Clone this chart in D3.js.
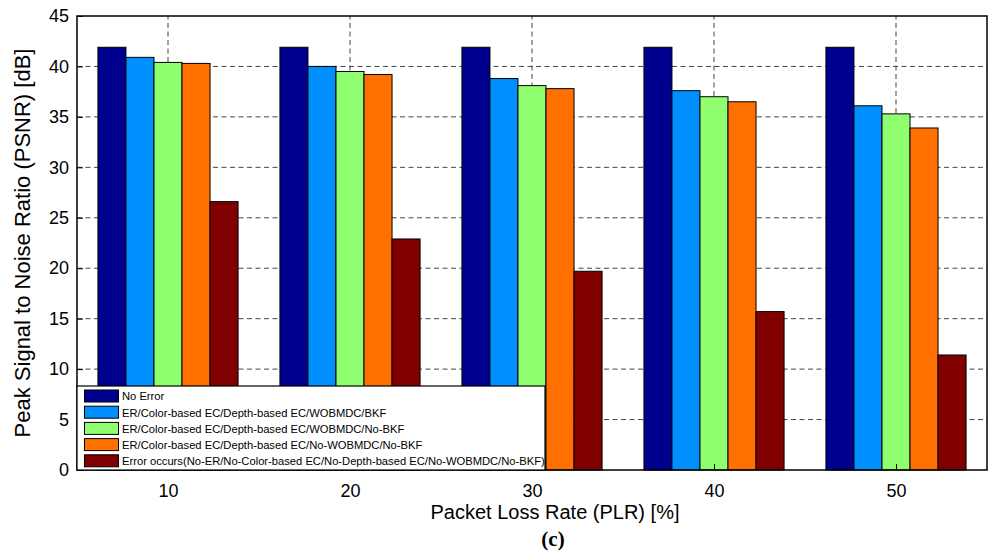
<!DOCTYPE html>
<html>
<head>
<meta charset="utf-8">
<script src="https://cdn.jsdelivr.net/npm/d3@7.9.0/dist/d3.min.js"></script>
<style>
  body { margin: 0; background: #fff; }
  svg { display: block; font-family: "Liberation Sans", Arial, sans-serif; }
</style>
</head>
<body>
<svg id="chart" width="989" height="555"></svg>
<script>
const categories = [10, 20, 30, 40, 50];
const seriesNames = [
  'No Error',
  'ER/Color-based EC/Depth-based EC/WOBMDC/BKF',
  'ER/Color-based EC/Depth-based EC/WOBMDC/No-BKF',
  'ER/Color-based EC/Depth-based EC/No-WOBMDC/No-BKF',
  'Error occurs(No-ER/No-Color-based EC/No-Depth-based EC/No-WOBMDC/No-BKF)'
];
const noError   = [41.9, 41.9, 41.9, 41.9, 41.9];
const erBkf     = [40.9, 40.0, 38.8, 37.6, 36.1];
const erNoBkf   = [40.4, 39.5, 38.1, 37.0, 35.3];
const erNoWob   = [40.3, 39.2, 37.8, 36.5, 33.9];
const errOccurs = [26.6, 22.9, 19.7, 15.7, 11.4];
const yTicks = [0, 5, 10, 15, 20, 25, 30, 35, 40, 45];
const colors = ['#00008f', '#008fff', '#8fff70', '#ff7000', '#800000'];

const series = [noError, erBkf, erNoBkf, erNoWob, errOccurs];

const margin = {left: 77, right: 2, top: 16, bottom: 85};
const W = 989, H = 555;
const svg = d3.select('#chart');

const x = d3.scaleLinear().domain([5, 55]).range([margin.left, W - margin.right]);
const y = d3.scaleLinear().domain([0, 45]).range([H - margin.bottom, margin.top]);

const groupW = 0.77 * (x(20) - x(10));
const x1 = d3.scaleBand().domain(d3.range(series.length)).range([-groupW / 2, groupW / 2]);

// grid
const grid = svg.append('g');
grid.selectAll('.gy').data(yTicks.slice(1, -1)).join('line')
  .attr('x1', x(5)).attr('x2', x(55))
  .attr('y1', d => y(d)).attr('y2', d => y(d))
  .attr('stroke', '#444').attr('stroke-dasharray', '5,3.5');
grid.selectAll('.gx').data(categories).join('line')
  .attr('x1', d => x(d)).attr('x2', d => x(d))
  .attr('y1', y(0)).attr('y2', y(45))
  .attr('stroke', '#444').attr('stroke-dasharray', '5,3.5');

// bars
series.forEach((vals, si) => {
  svg.append('g').selectAll('rect').data(vals).join('rect')
    .attr('x', (d, i) => x(categories[i]) + x1(si))
    .attr('width', x1.bandwidth())
    .attr('y', d => y(d))
    .attr('height', d => y(0) - y(d))
    .attr('fill', colors[si])
    .attr('stroke', '#000').attr('stroke-width', 1);
});

// axes
const yAxis = d3.axisLeft(y).tickValues(yTicks).tickSize(-6).tickPadding(8);
const gy = svg.append('g').attr('transform', `translate(${margin.left},0)`).call(yAxis);
gy.select('.domain').remove();
gy.selectAll('text').attr('font-size', 18).attr('fill', '#000');

const xAxis = d3.axisBottom(x).tickValues(categories).tickSize(-6).tickPadding(14);
const gx = svg.append('g').attr('transform', `translate(0,${y(0)})`).call(xAxis);
gx.select('.domain').remove();
gx.selectAll('text').attr('font-size', 18).attr('fill', '#000');

// frame
svg.append('rect')
  .attr('x', x(5)).attr('y', y(45))
  .attr('width', x(55) - x(5)).attr('height', y(0) - y(45))
  .attr('fill', 'none').attr('stroke', '#000').attr('stroke-width', 1.5);

// legend
const lg = svg.append('g').attr('transform', `translate(${x(5)},386)`);
lg.append('rect').attr('width', 468).attr('height', y(0) - 386)
  .attr('fill', '#fff').attr('stroke', '#000').attr('stroke-width', 1.2);
seriesNames.forEach((name, i) => {
  const cy = 10 + i * 16.2;
  lg.append('rect').attr('x', 7.5).attr('y', cy - 6).attr('width', 34).attr('height', 12)
    .attr('fill', colors[i]).attr('stroke', '#000').attr('stroke-width', 1);
  lg.append('text').attr('x', 45).attr('y', cy + 4.3)
    .attr('font-size', 11.2).text(name);
});

// labels
svg.append('text')
  .attr('transform', `translate(30,${(y(0) + y(45)) / 2}) rotate(-90)`)
  .attr('text-anchor', 'middle').attr('font-size', 22)
  .text('Peak Signal to Noise Ratio (PSNR) [dB]');
svg.append('text')
  .attr('x', 555).attr('y', 519).attr('text-anchor', 'middle').attr('font-size', 20)
  .text('Packet Loss Rate (PLR) [%]');
svg.append('text')
  .attr('x', 553).attr('y', 546).attr('text-anchor', 'middle')
  .attr('font-family', '"Liberation Serif", "Times New Roman", serif')
  .attr('font-weight', 'bold').attr('font-size', 21)
  .text('(c)');
</script>
</body>
</html>
